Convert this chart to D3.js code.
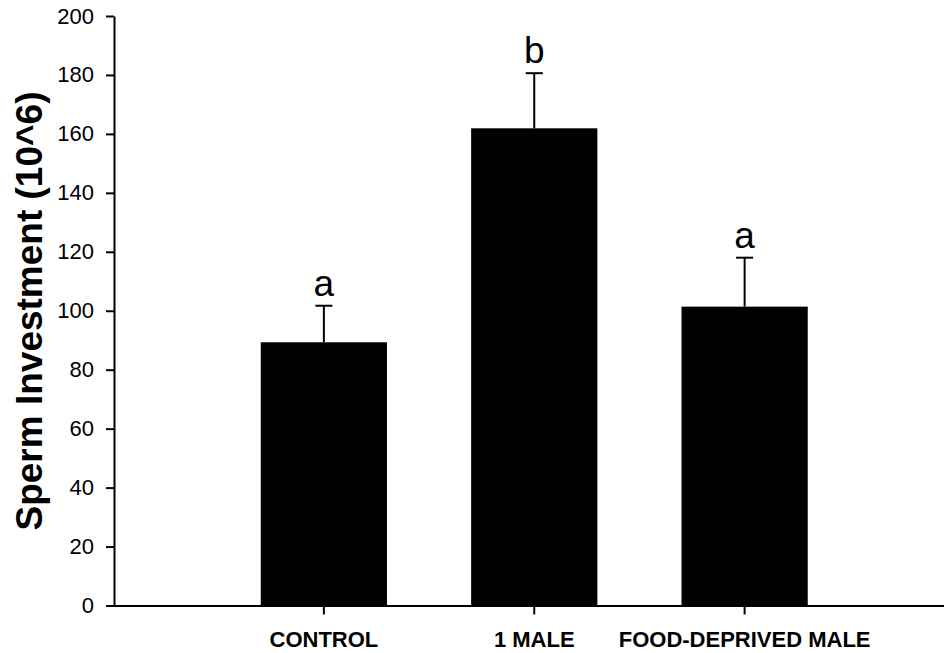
<!DOCTYPE html>
<html>
<head>
<meta charset="utf-8">
<script src="https://cdn.jsdelivr.net/npm/d3@7"></script>
<style>
  body { margin: 0; background: #fff; }
  svg { display: block; font-family: "Liberation Sans", Arial, sans-serif; }
</style>
</head>
<body>
<div id="chart"></div>
<script>
// data
const categories = ["CONTROL", "1 MALE", "FOOD-DEPRIVED MALE"];
const means = [89.3, 161.9, 101.4];
const upperErr = [101.7, 180.6, 118.0];
const letters = ["a", "b", "a"];
const yTicks = [0, 20, 40, 60, 80, 100, 120, 140, 160, 180, 200];

const width = 944, height = 653;

const svg = d3.select("#chart").append("svg")
  .attr("width", width)
  .attr("height", height);

const x = d3.scaleBand()
  .domain(categories)
  .range([113.5, 955])
  .paddingInner(0.4)
  .paddingOuter(0.7);

const y = d3.scaleLinear()
  .domain([0, 200])
  .range([605.5, 16]);

// bars
svg.selectAll(".bar")
  .data(categories)
  .enter().append("rect")
  .attr("class", "bar")
  .attr("x", d => x(d))
  .attr("width", x.bandwidth())
  .attr("y", (d, i) => y(means[i]))
  .attr("height", (d, i) => y(0) - y(means[i]))
  .attr("fill", "#000");

// error bars (upper only)
const cx = d => x(d) + x.bandwidth() / 2;
svg.selectAll(".err")
  .data(categories)
  .enter().append("line")
  .attr("x1", cx).attr("x2", cx)
  .attr("y1", (d, i) => y(means[i]))
  .attr("y2", (d, i) => y(upperErr[i]))
  .attr("stroke", "#000").attr("stroke-width", 2);

svg.selectAll(".cap")
  .data(categories)
  .enter().append("line")
  .attr("x1", d => cx(d) - 8.5).attr("x2", d => cx(d) + 8.5)
  .attr("y1", (d, i) => y(upperErr[i]))
  .attr("y2", (d, i) => y(upperErr[i]))
  .attr("stroke", "#000").attr("stroke-width", 2);

// significance letters
svg.selectAll(".letter")
  .data(categories)
  .enter().append("text")
  .attr("x", cx)
  .attr("y", (d, i) => y(upperErr[i]) - 10)
  .attr("text-anchor", "middle")
  .attr("font-size", 37)
  .attr("fill", "#000")
  .text((d, i) => letters[i]);

// y axis
const yAxis = svg.append("g")
  .attr("transform", "translate(114,0)")
  .call(d3.axisLeft(y).tickValues(yTicks).tickSize(8).tickSizeOuter(0).tickPadding(12));
yAxis.select(".domain").attr("stroke-width", 2);
yAxis.selectAll(".tick line").attr("stroke-width", 2);
yAxis.selectAll(".tick text")
  .attr("font-size", 22)
  .attr("font-family", "Liberation Sans, Arial, sans-serif")
  .attr("fill", "#000");

// x axis
const xAxis = svg.append("g")
  .attr("transform", "translate(0,605.5)")
  .call(d3.axisBottom(x).tickSize(9).tickSizeOuter(0));
xAxis.select(".domain").attr("stroke-width", 2);
xAxis.selectAll(".tick line").attr("stroke-width", 2);
xAxis.selectAll(".tick text")
  .attr("y", 41.5)
  .attr("dy", 0)
  .attr("font-size", 22)
  .attr("font-weight", "bold")
  .attr("font-family", "Liberation Sans, Arial, sans-serif")
  .attr("fill", "#000");

// y title
svg.append("text")
  .attr("transform", "translate(42,311) rotate(-90)")
  .attr("text-anchor", "middle")
  .attr("font-size", 37)
  .attr("font-weight", "bold")
  .attr("fill", "#000")
  .text("Sperm Investment (10^6)");
</script>
</body>
</html>
